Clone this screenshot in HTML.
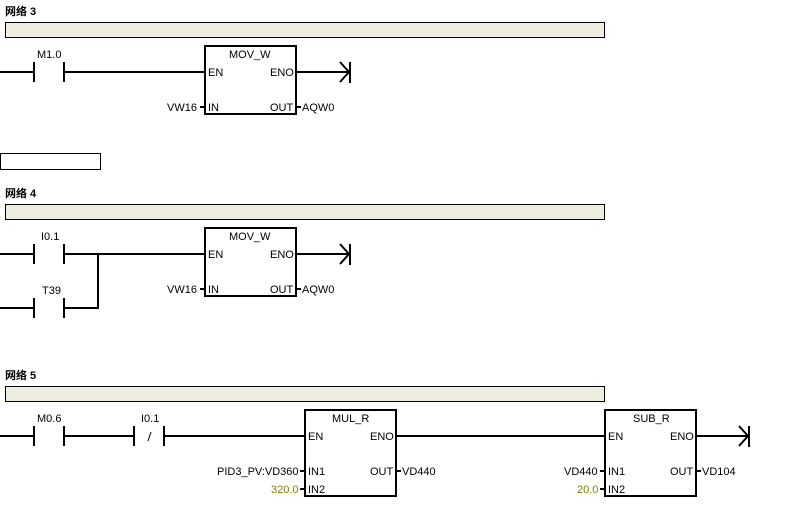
<!DOCTYPE html>
<html><head><meta charset="utf-8">
<style>
html,body{margin:0;padding:0;background:#fff;}
svg{display:block;}
text{font-family:"Liberation Sans","Noto Sans CJK SC",sans-serif;font-size:11px;fill:#000;}
.t{font-weight:bold;font-size:11px;}
.y{fill:#808000;}
</style></head><body>
<svg width="792" height="506" viewBox="0 0 792 506" xmlns="http://www.w3.org/2000/svg">
<g stroke="#000" stroke-width="2" fill="none">
<!-- Network 3 -->
<rect x="5.5" y="22.5" width="599" height="15" fill="#efece0" stroke-width="1"/>
<line x1="0" y1="72" x2="34" y2="72"/>
<line x1="34" y1="62" x2="34" y2="82"/>
<line x1="64" y1="62" x2="64" y2="82"/>
<line x1="64" y1="72" x2="204" y2="72"/>
<rect x="205" y="46" width="91" height="68"/>
<line x1="296" y1="72" x2="349" y2="72"/>
<line x1="350" y1="62" x2="350" y2="83"/>
<polyline points="340,62 349,72 340,82"/>
<line x1="200" y1="107" x2="204" y2="107"/>
<line x1="297" y1="107" x2="301" y2="107"/>
<!-- empty box -->
<rect x="0.5" y="153.5" width="100" height="16" stroke-width="1"/>
<!-- Network 4 -->
<rect x="5.5" y="204.5" width="599" height="15" fill="#efece0" stroke-width="1"/>
<line x1="0" y1="254" x2="34" y2="254"/>
<line x1="34" y1="244" x2="34" y2="264"/>
<line x1="64" y1="244" x2="64" y2="264"/>
<line x1="64" y1="254" x2="204" y2="254"/>
<line x1="0" y1="308" x2="34" y2="308"/>
<line x1="34" y1="298" x2="34" y2="318"/>
<line x1="64" y1="298" x2="64" y2="318"/>
<line x1="64" y1="308" x2="99" y2="308"/>
<line x1="98" y1="253" x2="98" y2="309"/>
<rect x="205" y="228" width="91" height="68"/>
<line x1="296" y1="254" x2="349" y2="254"/>
<line x1="350" y1="244" x2="350" y2="265"/>
<polyline points="340,244 349,254 340,264"/>
<line x1="200" y1="289" x2="204" y2="289"/>
<line x1="297" y1="289" x2="301" y2="289"/>
<!-- Network 5 -->
<rect x="5.5" y="386.5" width="599" height="15" fill="#efece0" stroke-width="1"/>
<line x1="0" y1="436" x2="34" y2="436"/>
<line x1="34" y1="426" x2="34" y2="446"/>
<line x1="64" y1="426" x2="64" y2="446"/>
<line x1="64" y1="436" x2="134" y2="436"/>
<line x1="134" y1="426" x2="134" y2="446"/>
<line x1="164" y1="426" x2="164" y2="446"/>
<line x1="164" y1="436" x2="304" y2="436"/>
<rect x="305" y="410" width="91" height="86"/>
<line x1="396" y1="436" x2="604" y2="436"/>
<line x1="300" y1="471" x2="304" y2="471"/>
<line x1="300" y1="489" x2="304" y2="489"/>
<line x1="397" y1="471" x2="401" y2="471"/>
<rect x="605" y="410" width="91" height="86"/>
<line x1="696" y1="436" x2="748" y2="436"/>
<line x1="749" y1="426" x2="749" y2="447"/>
<polyline points="739,426 748,436 739,446"/>
<line x1="600" y1="471" x2="604" y2="471"/>
<line x1="600" y1="489" x2="604" y2="489"/>
<line x1="697" y1="471" x2="701" y2="471"/>
</g>
<line x1="148" y1="441" x2="151" y2="432" stroke="#000" stroke-width="1"/>
<!-- texts -->
<text x="5" y="15" class="t">网络 3</text>
<text x="37" y="58">M1.0</text>
<text x="229" y="58">MOV_W</text>
<text x="208" y="76">EN</text>
<text x="270" y="76">ENO</text>
<text x="208" y="111">IN</text>
<text x="270" y="111">OUT</text>
<text x="167" y="111">VW16</text>
<text x="302" y="111">AQW0</text>

<text x="5" y="197" class="t">网络 4</text>
<text x="41" y="240">I0.1</text>
<text x="42" y="294">T39</text>
<text x="229" y="240">MOV_W</text>
<text x="208" y="258">EN</text>
<text x="270" y="258">ENO</text>
<text x="208" y="293">IN</text>
<text x="270" y="293">OUT</text>
<text x="167" y="293">VW16</text>
<text x="302" y="293">AQW0</text>

<text x="5" y="379" class="t">网络 5</text>
<text x="37" y="422">M0.6</text>
<text x="141" y="422">I0.1</text>
<text x="332" y="422">MUL_R</text>
<text x="308" y="440">EN</text>
<text x="370" y="440">ENO</text>
<text x="308" y="475">IN1</text>
<text x="308" y="493">IN2</text>
<text x="370" y="475">OUT</text>
<text x="402" y="475">VD440</text>
<text x="217" y="475">PID3_PV:VD360</text>
<text x="271" y="493" class="y">320.0</text>

<text x="633" y="422">SUB_R</text>
<text x="608" y="440">EN</text>
<text x="670" y="440">ENO</text>
<text x="608" y="475">IN1</text>
<text x="608" y="493">IN2</text>
<text x="670" y="475">OUT</text>
<text x="702" y="475">VD104</text>
<text x="564" y="475">VD440</text>
<text x="577" y="493" class="y">20.0</text>
</svg>
</body></html>
